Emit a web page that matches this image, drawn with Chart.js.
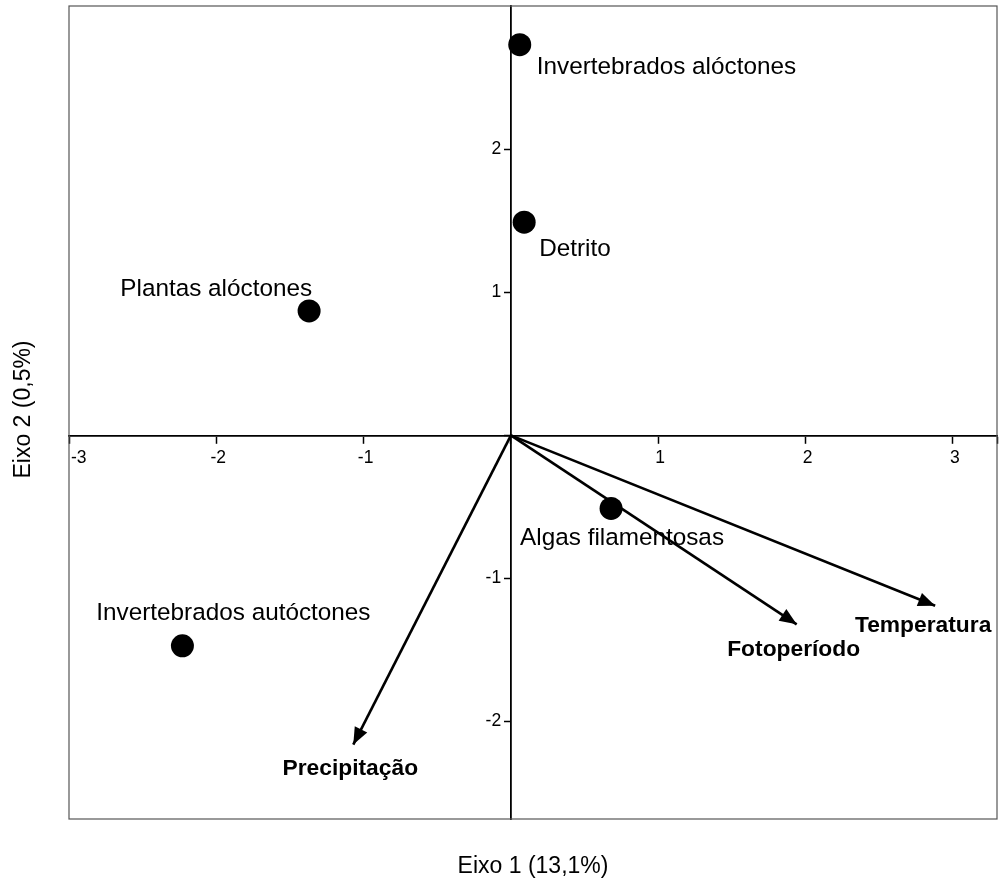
<!DOCTYPE html>
<html lang="pt">
<head>
<meta charset="utf-8">
<title>Eixo 1 × Eixo 2</title>
<script src="https://cdn.jsdelivr.net/npm/chart.js@4/dist/chart.umd.min.js"></script>
<style>
  html, body { margin: 0; padding: 0; background: #fff; }
  #wrap { width: 1000px; height: 884px; }
</style>
</head>
<body>
<div id="wrap"><canvas id="biplot" width="1000" height="884"></canvas></div>
<script>
// Food resources and their scores on the two ordination axes
const resources = ['Invertebrados alóctones', 'Detrito', 'Plantas alóctones', 'Algas filamentosas', 'Invertebrados autóctones'];
const resourceAxis1 = [0.06, 0.09, -1.37, 0.68, -2.23];
const resourceAxis2 = [2.73, 1.49, 0.87, -0.51, -1.47];

// Environmental variables, drawn as arrows from the origin
const variables = ['Precipitação', 'Fotoperíodo', 'Temperatura'];
const variableAxis1 = [-1.07, 1.94, 2.88];
const variableAxis2 = [-2.16, -1.32, -1.19];

// Axes
const axis1Ticks = [-3, -2, -1, 0, 1, 2, 3];
const axis2Ticks = [-2, -1, 0, 1, 2];
const axis1Range = [-3, 3.3];
const axis2Range = [-2.68, 3.0];
const axis1Title = 'Eixo 1 (13,1%)';
const axis2Title = 'Eixo 2 (0,5%)';

const FONT = '"Liberation Sans", Arial, Helvetica, sans-serif';

// Where each text sits relative to its mark, in pixels
const resourceLabelPlacement = [
  { dx: 17, dy: 23, align: 'left' },
  { dx: 15, dy: 27, align: 'left' },
  { dx: 3, dy: -22, align: 'right' },
  { dx: 11, dy: 30, align: 'center' },
  { dx: 51, dy: -33, align: 'center' }
];
const variableLabelPlacement = [
  { dx: -3, dy: 24 },
  { dx: -3, dy: 25 },
  { dx: -12, dy: 20 }
];

// Remove label overhang so the plot box is set by layout padding alone
function noScalePadding(scale) {
  scale.paddingLeft = 0; scale.paddingRight = 0;
  scale.paddingTop = 0; scale.paddingBottom = 0;
}

const biplotDecor = {
  id: 'biplotDecor',
  afterDatasetsDraw(chart) {
    const ctx = chart.ctx;
    ctx.save();

    // arrowheads at the end of each variable vector
    chart.data.datasets.forEach((ds, i) => {
      if (!ds.isArrow) return;
      const pts = chart.getDatasetMeta(i).data;
      const p0 = pts[0], p1 = pts[1];
      const ang = Math.atan2(p1.y - p0.y, p1.x - p0.x);
      const len = 17, half = 7;
      const bx = p1.x - len * Math.cos(ang), by = p1.y - len * Math.sin(ang);
      ctx.beginPath();
      ctx.moveTo(p1.x, p1.y);
      ctx.lineTo(bx - half * Math.sin(ang), by + half * Math.cos(ang));
      ctx.lineTo(bx + half * Math.sin(ang), by - half * Math.cos(ang));
      ctx.closePath();
      ctx.fillStyle = '#000';
      ctx.fill();

      const pl = variableLabelPlacement[ds.variableIndex];
      ctx.font = 'bold 22.8px ' + FONT;
      ctx.textAlign = 'center';
      ctx.textBaseline = 'middle';
      ctx.fillText(ds.label, p1.x + pl.dx, p1.y + pl.dy);
    });

    // resource names beside their points
    const meta = chart.getDatasetMeta(0);
    ctx.font = '24.3px ' + FONT;
    ctx.textBaseline = 'middle';
    ctx.fillStyle = '#000';
    meta.data.forEach((pt, i) => {
      const pl = resourceLabelPlacement[i];
      ctx.textAlign = pl.align;
      ctx.fillText(resources[i], pt.x + pl.dx, pt.y + pl.dy);
    });
    ctx.restore();
  },
  afterDraw(chart) {
    const ctx = chart.ctx;
    const a = chart.chartArea;
    ctx.save();
    // plot frame
    ctx.strokeStyle = '#555';
    ctx.lineWidth = 1.2;
    ctx.strokeRect(a.left, a.top, a.right - a.left, a.bottom - a.top);

    // axis titles
    ctx.fillStyle = '#000';
    ctx.font = '23px ' + FONT;
    ctx.textAlign = 'center';
    ctx.textBaseline = 'middle';
    ctx.fillText(axis1Title, (a.left + a.right) / 2, a.bottom + 48);
    ctx.translate(a.left - 45, (a.top + a.bottom) / 2 - 3);
    ctx.rotate(-Math.PI / 2);
    ctx.fillText(axis2Title, 0, 0);
    ctx.restore();
  }
};

const datasets = [
  {
    label: 'Recursos',
    data: resources.map((r, i) => ({ x: resourceAxis1[i], y: resourceAxis2[i] })),
    pointRadius: 11.5,
    pointBackgroundColor: '#000',
    pointBorderWidth: 0,
    showLine: false,
    order: 1
  },
  ...variables.map((v, i) => ({
    label: v,
    variableIndex: i,
    isArrow: true,
    data: [{ x: 0, y: 0 }, { x: variableAxis1[i], y: variableAxis2[i] }],
    showLine: true,
    borderColor: '#000',
    borderWidth: 2.6,
    borderCapStyle: 'butt',
    pointRadius: 0,
    fill: false,
    tension: 0,
    clip: false,
    order: 2
  }))
];

new Chart(document.getElementById('biplot'), {
  type: 'scatter',
  data: { datasets },
  options: {
    responsive: false,
    animation: false,
    events: [],
    devicePixelRatio: 1,
    layout: { autoPadding: false, padding: { left: 69, right: 3, top: 6, bottom: 65 } },
    plugins: { legend: { display: false }, tooltip: { enabled: false } },
    scales: {
      x: {
        type: 'linear',
        position: { y: 0 },
        min: axis1Range[0],
        max: axis1Range[1],
        afterBuildTicks(scale) {
          scale.ticks = axis1Ticks.concat([axis1Range[1]]).map(v => ({ value: v }));
        },
        afterFit: noScalePadding,
        border: { display: true, color: '#000', width: 1.8 },
        grid: { drawOnChartArea: false, drawTicks: true, tickLength: 7, tickColor: '#000', tickWidth: 1.5 },
        ticks: {
          align: 'inner',
          labelOffset: 2,
          padding: 5,
          maxRotation: 0,
          autoSkip: false,
          color: '#000',
          font: { family: FONT, size: 17.5 },
          callback: v => (axis1Ticks.includes(v) && v !== 0 ? String(v) : '')
        }
      },
      y: {
        type: 'linear',
        position: { x: 0 },
        min: axis2Range[0],
        max: axis2Range[1],
        afterBuildTicks(scale) {
          scale.ticks = axis2Ticks.map(v => ({ value: v }));
        },
        afterFit: noScalePadding,
        border: { display: true, color: '#000', width: 1.8 },
        grid: { drawOnChartArea: false, drawTicks: true, tickLength: 6, tickColor: '#000', tickWidth: 1.5 },
        ticks: {
          autoSkip: false,
          color: '#000',
          font: { family: FONT, size: 17.5 },
          // a trailing figure space keeps the right-aligned label clear of the tick mark
          callback: v => (v !== 0 ? String(v) + '\u2007' : '')
        }
      }
    }
  },
  plugins: [biplotDecor]
});
</script>
</body>
</html>
